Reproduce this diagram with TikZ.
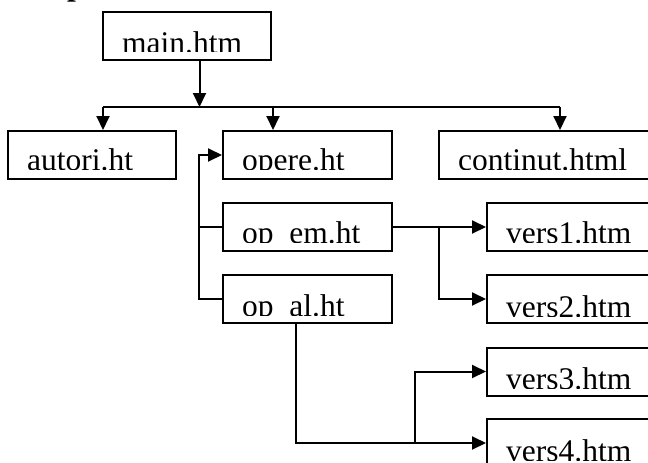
\documentclass[tikz,border=0pt]{standalone}
\usepackage{fontspec}
\setmainfont{Liberation Serif}
\usetikzlibrary{arrows.meta,calc}

\begin{document}
\begin{tikzpicture}[x=1pt, y=-1pt,
    box/.style={draw, line width=2pt, inner sep=0pt, minimum height=48pt},
    arr/.style={line width=2pt, -{Triangle[length=14pt,width=13pt]}},
    lijn/.style={line width=2pt},
    tekst/.style={anchor=base west, inner sep=0pt, font={\fontsize{31.5}{36}\selectfont}}]

    \useasboundingbox (0,0) rectangle (648,463);
    \clip (0,0) rectangle (648,463);

    % titel, afgesneden
    \node (titel) [tekst, font={\fontsize{31.5}{36}\selectfont\bfseries}] at (67,-5) {p};

    % bestanden
    \node (main) [box, minimum width=168pt] at (187,36) {};
    \node (autori) [box, minimum width=168pt] at (92,155) {};
    \node (opere) [box, minimum width=169pt] at (307.5,155) {};
    \node (continut) [box, minimum width=221pt] at (549.5,155) {};
    \node (opem) [box, minimum width=169pt] at (307.5,227) {};
    \node (opal) [box, minimum width=169pt] at (307.5,299) {};
    \node (vers1) [box, minimum width=169pt] at (571.5,227) {};
    \node (vers2) [box, minimum width=169pt] at (571.5,299) {};
    \node (vers3) [box, minimum width=169pt] at (571.5,371.5) {};
    \node (vers4) [box, minimum width=169pt] at (571.5,443) {};

    % teksten, onderaan afgesneden
    \foreach \n/\t/\b/\c in {main/main.htm/8/10, autori/autori.ht/9.5/11,
        opere/opere.ht/9.5/11, continut/continut.html/9.5/11,
        opem/op\_em.ht/8.3/9.3, opal/op\_al.ht/8/9,
        vers1/vers1.htm/8.5/9.5, vers2/vers2.htm/7/8,
        vers3/vers3.htm/7.3/8.3, vers4/vers4.htm/7/8} {
      \begin{scope}
        \clip (\n.north west) rectangle ($(\n.south east)+(0,-\c)$);
        \node (\n-txt) [tekst] at ($(\n.south west)+(20,-\b)$) {\t};
      \end{scope}
    }

    % verdeling vanuit main
    \coordinate (hub) at (199.5,107);
    \coordinate (ta) at (103,107);
    \coordinate (to) at (273,107);
    \coordinate (tc) at (560,107);
    \draw[arr] (main.south -| hub) -- (hub);
    \draw[lijn] (ta) -- (tc);
    \draw[arr] (ta) -- (ta |- autori.north);
    \draw[arr] (to) -- (to |- opere.north);
    \draw[arr] (tc) -- (tc |- continut.north);

    % terug naar opere
    \coordinate (lv) at (199,155);
    \draw[arr] (opal.west) -| (lv) -- (opere.west);
    \draw[lijn] (opem.west) -- (opem.west -| lv);

    % vers1 en vers2
    \coordinate (b1) at (439,227);
    \draw[arr] (opem.east) -- (vers1.west);
    \draw[arr] (b1) |- (vers2.west);

    % vers3 en vers4
    \coordinate (d) at (296,443);
    \coordinate (b2) at (415,443);
    \draw[arr] (opal.south -| d) |- (vers4.west);
    \draw[arr] (b2) |- (vers3.west);
\end{tikzpicture}
\end{document}
